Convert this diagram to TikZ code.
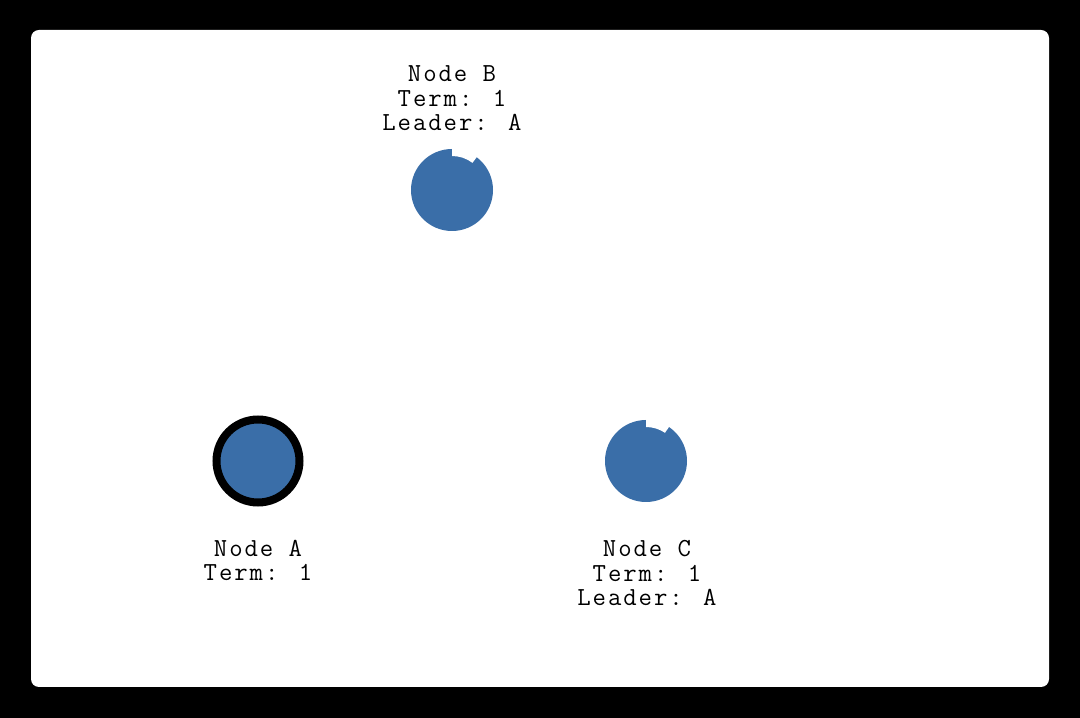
\documentclass[tikz,border=0pt]{standalone}
\usepackage{fontspec}
\newfontfamily\labelfont[LetterSpace=7.5]{Latin Modern Mono}
\usetikzlibrary{shapes}
\definecolor{serverblue}{RGB}{58,110,168}

\tikzset{
	server/.style={circle,fill=serverblue,minimum size=82pt,inner sep=0pt},
	leader/.style={server,draw=black,line width=8pt,minimum size=83pt},
	info/.style={font=\labelfont\fontsize{26}{24.5}\selectfont,align=center,anchor=base,inner sep=0pt},
	notch/.style={fill=white}
}

\begin{document}
\begin{tikzpicture}[x=1pt,y=1pt]
	\useasboundingbox (0,0) rectangle (1080,718);
	\fill[black] (0,0) rectangle (1080,718);
	\fill[white,rounded corners=8pt] (31,31) rectangle (1049,688);
	\node[server] (b) at (452,528) {};
	\node[leader] (a) at (258,257) {};
	\node[server] (c) at (646,257) {};
	\fill[notch] ([shift={(53:34pt)}]b.center) arc[start angle=53,end angle=90,radius=34pt] -- ([shift={(90:43pt)}]b.center) arc[start angle=90,end angle=53,radius=43pt] -- cycle;
	\fill[notch] ([shift={(56:34pt)}]c.center) arc[start angle=56,end angle=90,radius=34pt] -- ([shift={(90:43pt)}]c.center) arc[start angle=90,end angle=56,radius=43pt] -- cycle;
	\node[info] (lb) at (452,587) {Node B\\Term: 1\\Leader: A};
	\node[info] (la) at (258,137) {Node A\\Term: 1};
	\node[info] (lc) at (647,112) {Node C\\Term: 1\\Leader: A};
\end{tikzpicture}
\end{document}
